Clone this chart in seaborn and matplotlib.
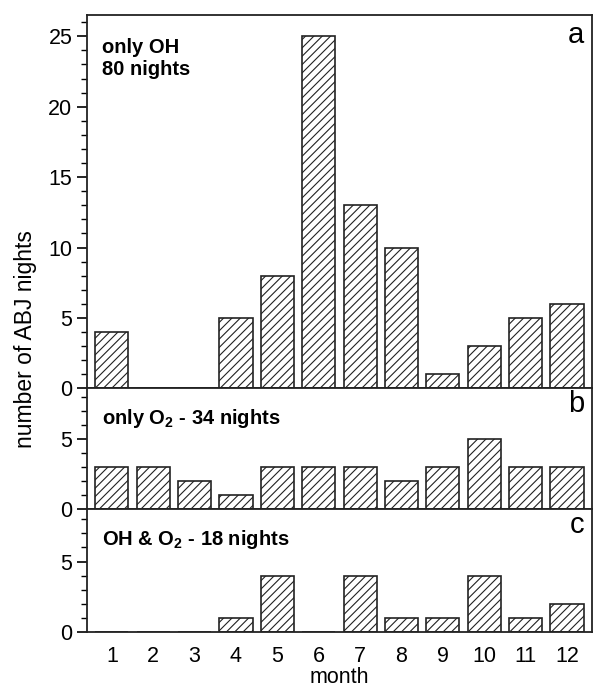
import matplotlib
matplotlib.use('Agg')
import matplotlib.pyplot as plt
import seaborn as sns
from matplotlib.ticker import MultipleLocator

# data
months = ['1', '2', '3', '4', '5', '6', '7', '8', '9', '10', '11', '12']
only_oh = [4, 0, 0, 5, 8, 25, 13, 10, 1, 3, 5, 6]
only_o2 = [3, 3, 2, 1, 3, 3, 3, 2, 3, 5, 3, 3]
oh_and_o2 = [0, 0, 0, 1, 4, 0, 4, 1, 1, 4, 1, 2]

panel_labels = ['a', 'b', 'c']
panel_titles = [r'only OH' + '\n' + '80 nights',
                r'only $\mathbf{O_2}$ - 34 nights',
                r'OH & $\mathbf{O_2}$ - 18 nights']
ymax = [26.5, 8.6, 8.7]

sns.set_style('ticks')
plt.rcParams['font.family'] = ['Liberation Sans', 'DejaVu Sans']
plt.rcParams['mathtext.fontset'] = 'custom'
plt.rcParams['mathtext.bf'] = 'Liberation Sans:bold'
plt.rcParams['mathtext.rm'] = 'Liberation Sans'
plt.rcParams['hatch.linewidth'] = 0.8
plt.rcParams['text.color'] = 'black'
plt.rcParams['xtick.color'] = 'black'
plt.rcParams['ytick.color'] = 'black'
plt.rcParams['axes.labelcolor'] = 'black'

fig, axes = plt.subplots(3, 1, figsize=(5.96, 6.91), dpi=100, sharex=True,
                         gridspec_kw={'height_ratios': ymax, 'hspace': 0})
fig.subplots_adjust(left=0.146, right=0.993, top=0.978, bottom=0.0854)

for ax, vals, lab, title, top in zip(axes, [only_oh, only_o2, oh_and_o2],
                                     panel_labels, panel_titles, ymax):
    sns.barplot(x=months, y=vals, ax=ax, color='white', saturation=1,
                edgecolor='#222222', linewidth=1.2, hatch='////', width=0.8)
    ax.set_ylim(0, top)
    ax.set_xlim(-0.6, 11.6)
    ax.yaxis.set_major_locator(MultipleLocator(5))
    ax.yaxis.set_minor_locator(MultipleLocator(1))
    ax.tick_params(axis='y', which='major', length=7, width=1.2, labelsize=15.5, direction='out')
    ax.tick_params(axis='y', which='minor', length=4, width=1.0, direction='out')
    ax.tick_params(axis='x', length=0, labelsize=15.5, pad=10)
    for s in ax.spines.values():
        s.set_linewidth(1.3)
        s.set_color('#222222')
    ax.set_ylabel('')
    ax.text(0.985, 0.985, lab, transform=ax.transAxes, ha='right', va='top', fontsize=21)
    ax.text(0.03, 0.94 if lab == 'a' else 0.85, title, transform=ax.transAxes,
            ha='left', va='top', fontsize=14.5, fontweight='bold', linespacing=1.25)

axes[2].set_xlabel('month', fontsize=15.5, labelpad=0)
fig.text(0.042, 0.51, 'number of ABJ nights', rotation=90, ha='center', va='center', fontsize=16.5)

fig.savefig('out.png', dpi=100)
